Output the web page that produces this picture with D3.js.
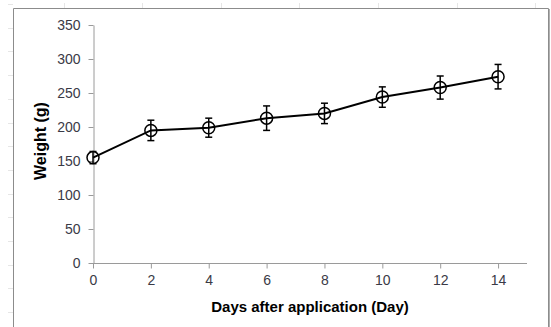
<!DOCTYPE html>
<html>
<head>
<meta charset="utf-8">
<script src="https://cdn.jsdelivr.net/npm/d3@7"></script>
<style>
  body { margin: 0; background: #fff; }
  svg { display: block; }
</style>
</head>
<body>
<div id="chart"></div>
<script>
const days = [0, 2, 4, 6, 8, 10, 12, 14];
const weight = [155, 195, 199, 213, 220, 244, 258, 274];
const errors = [9, 15, 14, 18, 15, 15, 17, 18];
const yTicks = [0, 50, 100, 150, 200, 250, 300, 350];
const xTicks = [0, 2, 4, 6, 8, 10, 12, 14];

const width = 551;
const height = 327;
const font = "'Liberation Sans', Arial, sans-serif";

const svg = d3.select('#chart')
    .append('svg')
    .attr('width', width)
    .attr('height', height);

// faint spreadsheet cell lines outside the chart frame
const cells = svg.append('g').attr('stroke', '#e6e6e6').attr('stroke-width', 1);
d3.range(63.5, 551, 78.6).forEach(x => {
    cells.append('line').attr('x1', Math.round(x) + 0.5).attr('x2', Math.round(x) + 0.5).attr('y1', 3).attr('y2', 8);
});
d3.range(4, 327, 23.7).forEach(y => {
    cells.append('line').attr('x1', 8).attr('x2', 13).attr('y1', Math.round(y) + 0.5).attr('y2', Math.round(y) + 0.5);
});

// chart frame
svg.append('path')
    .attr('d', 'M13.5,330 V8.5 H548.5 V330')
    .attr('fill', 'none')
    .attr('stroke', '#8c8c8c')
    .attr('stroke-width', 1);
svg.append('line')
    .attr('x1', 549.5).attr('x2', 549.5).attr('y1', 9).attr('y2', 330)
    .attr('stroke', '#b0b0b0');

const x = d3.scaleLinear().domain([0, 15]).range([93, 527]);
const y = d3.scaleLinear().domain([0, 350]).range([263, 25]);

const xAxis = svg.append('g')
    .attr('transform', `translate(0,${y(0) + 0.5})`)
    .call(d3.axisBottom(x).tickValues(xTicks).tickSize(5).tickSizeOuter(0).tickPadding(7));

const yAxis = svg.append('g')
    .attr('transform', `translate(${x(0) + 0.5},0)`)
    .call(d3.axisLeft(y).tickValues(yTicks).tickSize(5).tickSizeOuter(0).tickPadding(8));

[xAxis, yAxis].forEach(g => {
    g.select('.domain').attr('stroke', '#9a9a9a');
    g.selectAll('.tick line').attr('stroke', '#9a9a9a');
    g.selectAll('.tick text')
        .attr('fill', '#3a3a46')
        .style('font-family', font)
        .style('font-size', '14px');
});
xAxis.select('.domain').attr('d', `M${x(0)},0H${x(15)}`);

// error bars
const err = svg.append('g').attr('stroke', '#000').attr('stroke-width', 1.5);
days.forEach((d, i) => {
    const cx = x(d);
    const top = y(weight[i] + errors[i]);
    const bot = y(weight[i] - errors[i]);
    err.append('line').attr('x1', cx).attr('x2', cx).attr('y1', top).attr('y2', bot);
    err.append('line').attr('x1', cx - 3.5).attr('x2', cx + 3.5).attr('y1', top).attr('y2', top);
    err.append('line').attr('x1', cx - 3.5).attr('x2', cx + 3.5).attr('y1', bot).attr('y2', bot);
});

const line = d3.line()
    .x((d, i) => x(days[i]))
    .y(d => y(d));

svg.append('path')
    .datum(weight)
    .attr('d', line)
    .attr('fill', 'none')
    .attr('stroke', '#000')
    .attr('stroke-width', 2);

svg.selectAll('.marker')
    .data(weight)
    .enter().append('circle')
    .attr('class', 'marker')
    .attr('cx', (d, i) => x(days[i]))
    .attr('cy', d => y(d))
    .attr('r', 6)
    .attr('fill', 'none')
    .attr('stroke', '#000')
    .attr('stroke-width', 1.5);

svg.append('text')
    .attr('x', 310)
    .attr('y', 312)
    .attr('text-anchor', 'middle')
    .style('font-family', font)
    .style('font-weight', 'bold')
    .style('font-size', '15px')
    .attr('fill', '#000')
    .text('Days after application (Day)');

svg.append('text')
    .attr('transform', 'translate(46,141) rotate(-90)')
    .attr('text-anchor', 'middle')
    .style('font-family', font)
    .style('font-weight', 'bold')
    .style('font-size', '16px')
    .attr('fill', '#000')
    .text('Weight (g)');
</script>
</body>
</html>
